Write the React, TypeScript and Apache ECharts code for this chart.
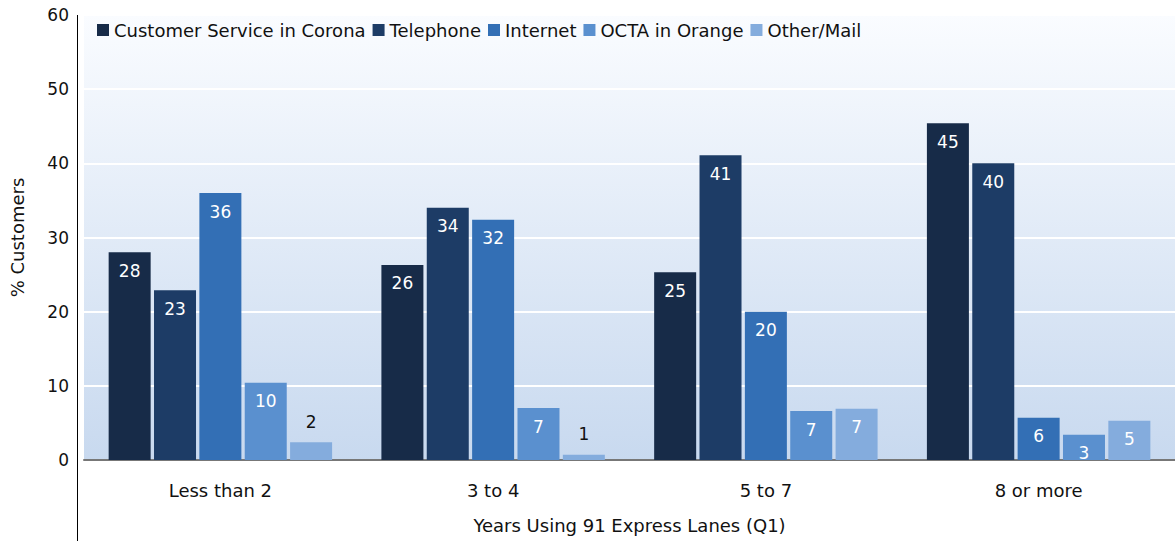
import React, { useEffect, useRef } from "react";
import * as echarts from "echarts";

const categories = ["Less than 2", "3 to 4", "5 to 7", "8 or more"];
const seriesNames = ["Customer Service in Corona", "Telephone", "Internet", "OCTA in Orange", "Other/Mail"];
const corona = [28.0, 26.3, 25.3, 45.4];
const telephone = [22.9, 34.0, 41.1, 40.0];
const internet = [36.0, 32.4, 20.0, 5.7];
const octa = [10.4, 7.0, 6.6, 3.4];
const otherMail = [2.4, 0.7, 6.9, 5.3];
const colors = ["#172B48", "#1D3C66", "#336FB5", "#5A90CF", "#84ACDD"];
const yTicks = [0, 10, 20, 30, 40, 50, 60];

const FONT = "DejaVu Sans";

export default function App() {
  const ref = useRef<HTMLDivElement>(null);
  useEffect(() => {
    if (!ref.current) return;
    const chart = echarts.init(ref.current, null, { renderer: "svg" });
    const all = [corona, telephone, internet, octa, otherMail];
    const series = all.map((vals, i) => ({
      name: seriesNames[i],
      type: "bar",
      barWidth: 42,
      barGap: "8%",
      itemStyle: { color: colors[i] },
      label: {
        show: true,
        position: "insideTop",
        distance: 10,
        color: "#FFFFFF",
        fontFamily: FONT,
        fontSize: 17,
        formatter: (p: any) => String(Math.round(p.value)),
      },
      data: vals.map((v) =>
        v < 3
          ? { value: v, label: { position: "top", distance: 12, color: "#111111" } }
          : { value: v }
      ),
    }));
    chart.setOption({
      animation: false,
      textStyle: { fontFamily: FONT },
      legend: {
        left: 92,
        top: 16,
        itemWidth: 12,
        itemHeight: 12,
        itemGap: 7,
        icon: "rect",
        textStyle: { fontFamily: FONT, fontSize: 18, color: "#111111" },
        data: seriesNames,
      },
      grid: {
        left: 77,
        right: 0,
        top: 15,
        bottom: 81,
        show: true,
        borderWidth: 0,
        backgroundColor: new echarts.graphic.LinearGradient(0, 0, 0, 1, [
          { offset: 0, color: "#FAFCFF" },
          { offset: 1, color: "#C8D9EF" },
        ]),
      },
      xAxis: {
        type: "category",
        data: categories,
        axisLine: { show: true, lineStyle: { color: "#777777", width: 2 } },
        axisTick: { show: false },
        axisLabel: { fontFamily: FONT, fontSize: 18, color: "#111111", margin: 21 },
        name: "Years Using 91 Express Lanes (Q1)",
        nameLocation: "middle",
        nameGap: 56,
        nameTextStyle: { fontFamily: FONT, fontSize: 18, color: "#111111" },
      },
      yAxis: {
        type: "value",
        min: yTicks[0],
        max: yTicks[yTicks.length - 1],
        interval: 10,
        axisLine: { show: false },
        axisTick: { show: false },
        splitLine: { show: true, lineStyle: { color: "#FFFFFF", width: 2 } },
        axisLabel: { fontFamily: FONT, fontSize: 17, color: "#111111", margin: 15 },
        name: "% Customers",
        nameLocation: "middle",
        nameGap: 58,
        nameTextStyle: { fontFamily: FONT, fontSize: 18, color: "#111111" },
      },
      graphic: [
        {
          type: "line",
          shape: { x1: 77.5, y1: 15, x2: 77.5, y2: 541 },
          style: { stroke: "#000000", lineWidth: 1 },
          z: 100,
        },
      ],
      series,
    });
    return () => chart.dispose();
  }, []);
  return (
    <div
      ref={ref}
      style={{ position: "fixed", left: 0, top: 0, width: 1175, height: 541, background: "#FFFFFF" }}
    />
  );
}
